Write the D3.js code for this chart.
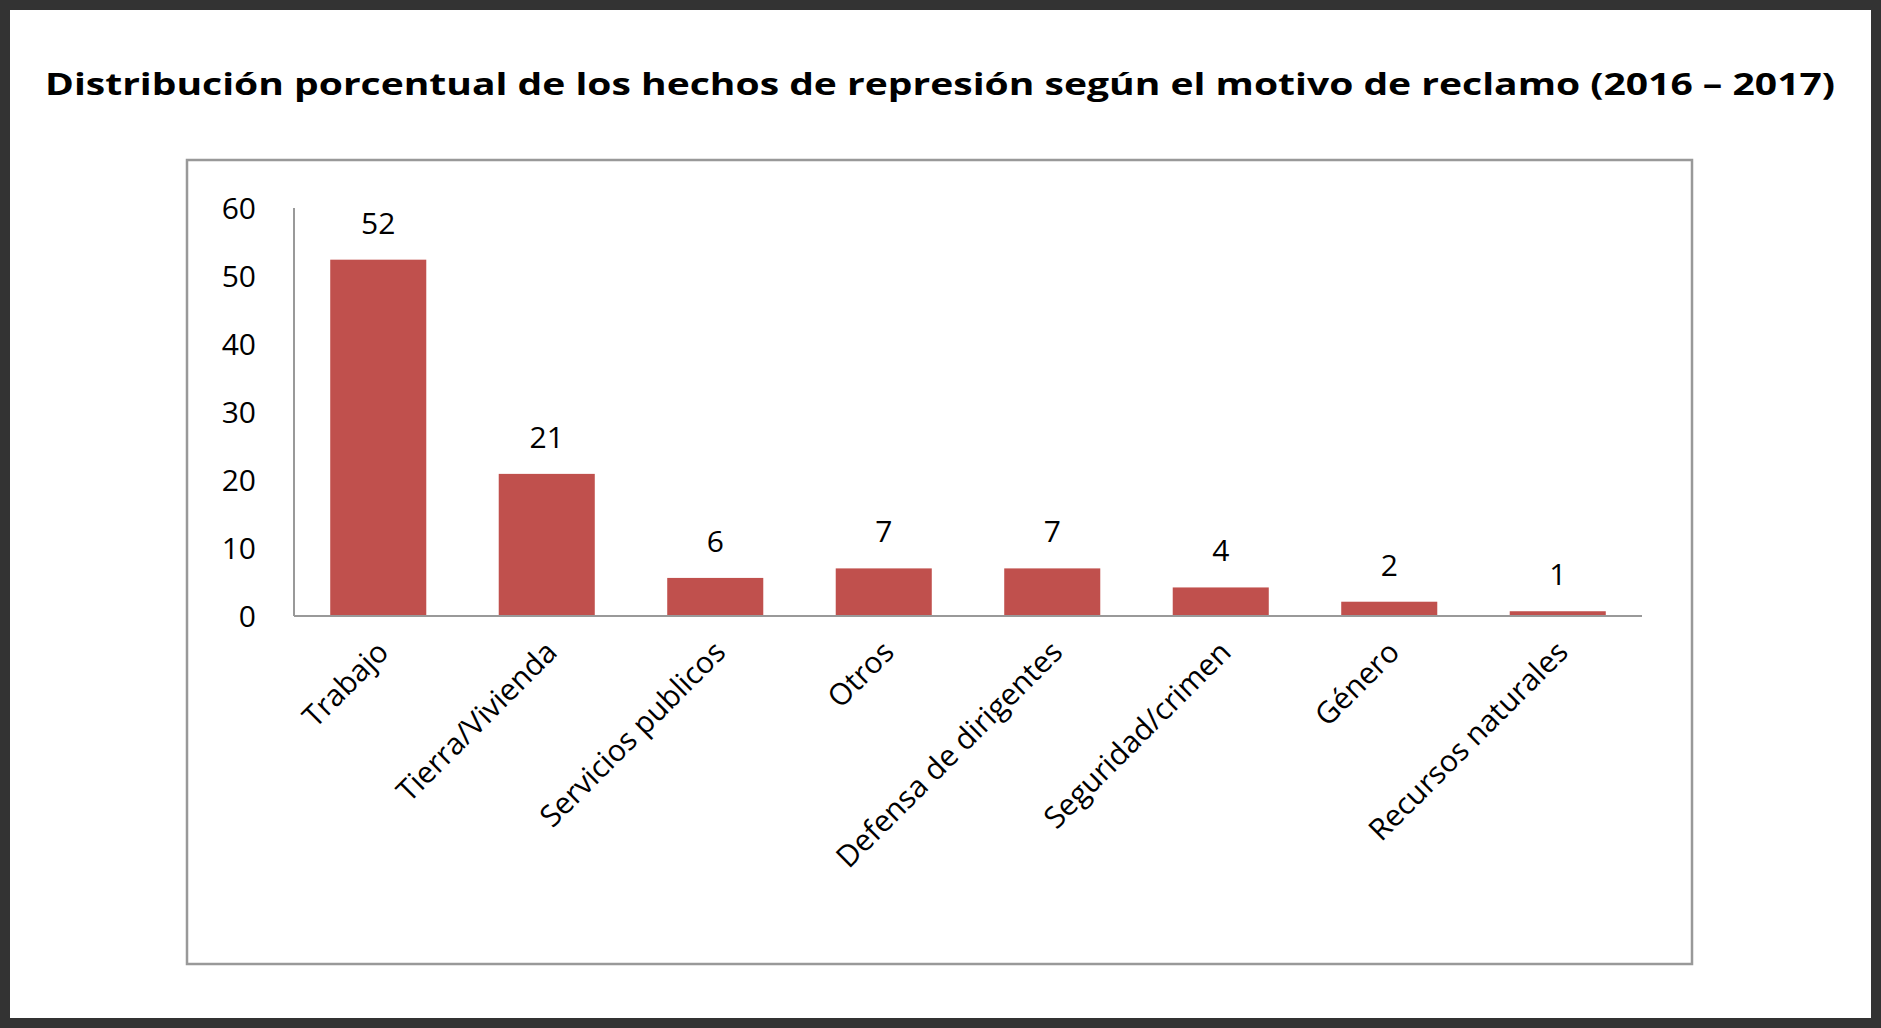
<!DOCTYPE html>
<html><head><meta charset="utf-8">
<script src="https://cdn.jsdelivr.net/npm/d3@7"></script>
<style>body{margin:0;background:#fff}svg{display:block}</style>
</head><body><svg id="c" width="1881" height="1028"></svg>
<script>
const categories=["Trabajo","Tierra/Vivienda","Servicios publicos","Otros","Defensa de dirigentes","Seguridad/crimen","Género","Recursos naturales"];
const values=[52.4,20.9,5.6,7.0,7.0,4.2,2.1,0.7];
const valueLabels=["52","21","6","7","7","4","2","1"];
const yTicks=[0,10,20,30,40,50,60];
const title="Distribución porcentual de los hechos de represión según el motivo de reclamo (2016 – 2017)";

const svg=d3.select("#c");
const F="'Open Sans', sans-serif";
svg.append("rect").attr("x",5).attr("y",5).attr("width",1871).attr("height",1018).attr("fill","#fff").attr("stroke","#333").attr("stroke-width",10);
svg.append("text").attr("x",940).attr("y",95).attr("text-anchor","middle").attr("font-family",F).attr("font-weight","bold").attr("font-size",31).attr("textLength",1790).attr("lengthAdjust","spacingAndGlyphs").text(title);
svg.append("rect").attr("x",187).attr("y",160).attr("width",1505).attr("height",804).attr("fill","none").attr("stroke","#999").attr("stroke-width",2.5);

const x=d3.scaleBand().domain(categories).range([294,1642]).paddingInner(0.43).paddingOuter(0.215);
const y=d3.scaleLinear().domain([0,60]).range([616,208]);
const g=svg.append("g");
g.append("line").attr("x1",294).attr("x2",294).attr("y1",y(60)).attr("y2",y(0)).attr("stroke","#999").attr("stroke-width",2);
g.selectAll(".yt").data(yTicks).join("text").attr("x",256).attr("y",d=>y(d)+11).attr("text-anchor","end").attr("font-family",F).attr("font-size",30).attr("fill","#000").text(d=>d);
g.selectAll(".bar").data(values).join("rect").attr("x",(d,i)=>x(categories[i])).attr("width",x.bandwidth()).attr("y",d=>y(d)).attr("height",d=>y(0)-y(d)).attr("fill","#C0504D");
g.append("line").attr("x1",294).attr("x2",1642).attr("y1",y(0)).attr("y2",y(0)).attr("stroke","#999").attr("stroke-width",2);
g.selectAll(".vl").data(values).join("text").attr("x",(d,i)=>x(categories[i])+x.bandwidth()/2).attr("y",d=>y(d)-26).attr("text-anchor","middle").attr("font-family",F).attr("font-size",30).text((d,i)=>valueLabels[i]);
g.selectAll(".xl").data(categories).join("text").attr("transform",d=>`translate(${x(d)+x.bandwidth()/2+12},${y(0)+38}) rotate(-45)`).attr("text-anchor","end").attr("font-family",F).attr("font-size",30).text(d=>d);
</script></body></html>
